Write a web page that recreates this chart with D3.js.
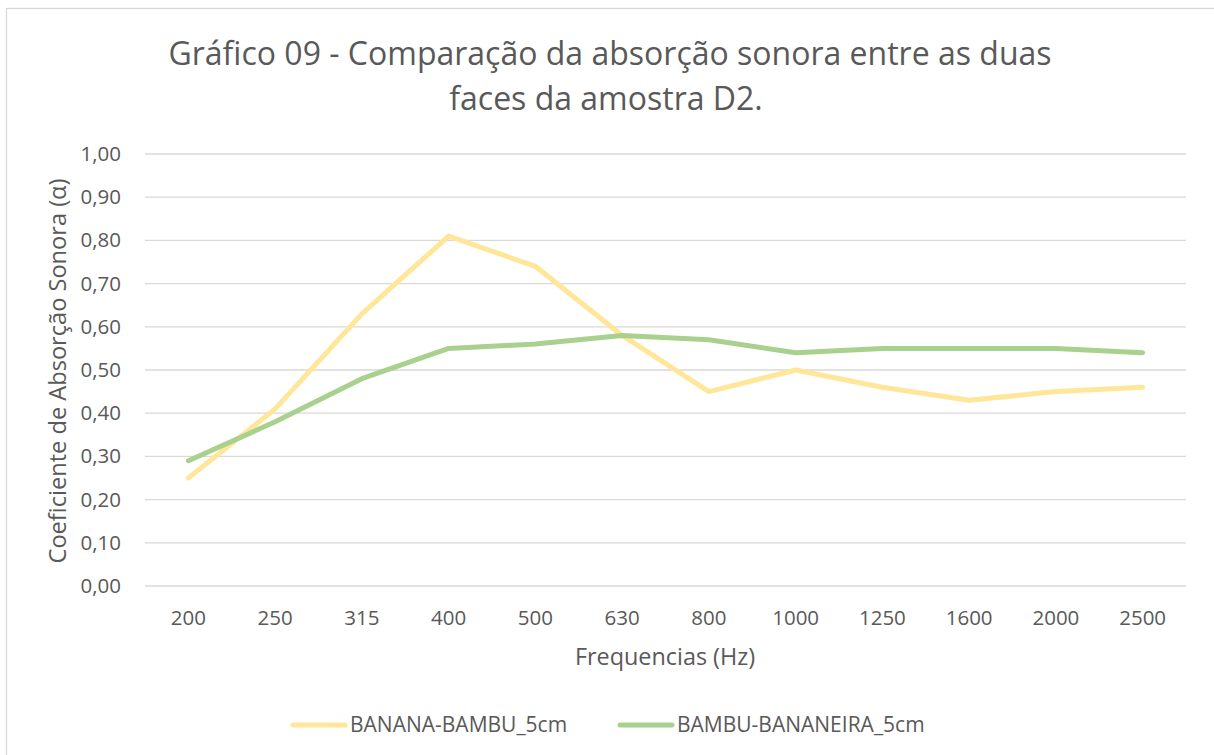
<!DOCTYPE html>
<html>
<head>
<meta charset="utf-8">
<script src="https://cdn.jsdelivr.net/npm/d3@7"></script>
<style>
  body { margin: 0; background: #fff; }
  svg { display: block; font-family: "Open Sans", sans-serif; }
</style>
</head>
<body>
<svg id="chart" width="1214" height="755"></svg>
<script>
// Data
const frequencies = ["200", "250", "315", "400", "500", "630", "800", "1000", "1250", "1600", "2000", "2500"];
const bananaBambu = [0.25, 0.41, 0.63, 0.81, 0.74, 0.58, 0.45, 0.50, 0.46, 0.43, 0.45, 0.46];
const bambuBananeira = [0.29, 0.38, 0.48, 0.55, 0.56, 0.58, 0.57, 0.54, 0.55, 0.55, 0.55, 0.54];
const yTicks = [0, 0.1, 0.2, 0.3, 0.4, 0.5, 0.6, 0.7, 0.8, 0.9, 1.0];
const seriesNames = ["BANANA-BAMBU_5cm", "BAMBU-BANANEIRA_5cm"];
const seriesColors = ["#FFE699", "#A9D18E"];

const svg = d3.select("#chart");
const textColor = "#595959";
const fmt = d => d.toFixed(2).replace(".", ",");

// outer chart border (right and bottom run off the picture)
svg.append("rect")
  .attr("x", 6.5).attr("y", 8.5)
  .attr("width", 1300).attr("height", 900)
  .attr("fill", "#fff")
  .attr("stroke", "#D9D9D9")
  .attr("stroke-width", 1.3);

const plot = { left: 145, right: 1186, top: 154, bottom: 586 };

const x = d3.scaleBand()
  .domain(frequencies)
  .range([plot.left, plot.right]);

const y = d3.scaleLinear()
  .domain([0, 1])
  .range([plot.bottom, plot.top]);

// gridlines
svg.append("g")
  .selectAll("line")
  .data(yTicks)
  .join("line")
  .attr("x1", plot.left).attr("x2", plot.right)
  .attr("y1", d => y(d)).attr("y2", d => y(d))
  .attr("stroke", "#D9D9D9")
  .attr("stroke-width", 1.3);

// y axis labels
const yAxis = svg.append("g")
  .attr("transform", `translate(${plot.left - 24},0)`)
  .call(d3.axisLeft(y).tickValues(yTicks).tickFormat(fmt).tickSize(0).tickPadding(0));
yAxis.select(".domain").remove();
yAxis.selectAll("text")
  .attr("fill", textColor)
  .style("font-size", "20.5px")
  .style("font-family", "Open Sans, sans-serif");

// x axis labels
const xAxis = svg.append("g")
  .attr("transform", `translate(0,${plot.bottom + 24})`)
  .call(d3.axisBottom(x).tickSize(0).tickPadding(0));
xAxis.select(".domain").remove();
xAxis.selectAll("text")
  .attr("fill", textColor)
  .attr("dy", "0.71em")
  .style("font-size", "20.5px")
  .style("font-family", "Open Sans, sans-serif");

// lines
const line = d3.line()
  .x((d, i) => x(frequencies[i]) + x.bandwidth() / 2)
  .y(d => y(d));

[bananaBambu, bambuBananeira].forEach((vals, k) => {
  svg.append("path")
    .datum(vals)
    .attr("d", line)
    .attr("fill", "none")
    .attr("stroke", seriesColors[k])
    .attr("stroke-width", 5)
    .attr("stroke-linecap", "round")
    .attr("stroke-linejoin", "round");
});

// title
const title = svg.append("text")
  .attr("text-anchor", "middle")
  .attr("fill", textColor)
  .style("font-size", "32px");
title.append("tspan").attr("x", 610).attr("y", 65)
  .text("Gráfico 09 - Comparação da absorção sonora entre as duas");
title.append("tspan").attr("x", 606).attr("y", 110)
  .text("faces da amostra D2.");

// axis titles
svg.append("text")
  .attr("x", 665).attr("y", 665)
  .attr("text-anchor", "middle")
  .attr("fill", textColor)
  .style("font-size", "23.4px")
  .text("Frequencias (Hz)");

svg.append("text")
  .attr("transform", "translate(66,371) rotate(-90)")
  .attr("text-anchor", "middle")
  .attr("fill", textColor)
  .style("font-size", "23.6px")
  .text("Coeficiente de Absorção Sonora (α)");

// legend
const legendX = [293, 620];
const legend = svg.append("g");
seriesNames.forEach((name, k) => {
  legend.append("line")
    .attr("x1", legendX[k]).attr("x2", legendX[k] + 52)
    .attr("y1", 725).attr("y2", 725)
    .attr("stroke", seriesColors[k])
    .attr("stroke-width", 5)
    .attr("stroke-linecap", "round");
  legend.append("text")
    .attr("x", legendX[k] + 57).attr("y", 732)
    .attr("fill", textColor)
    .style("font-size", "21px")
    .text(name);
});
</script>
</body>
</html>
